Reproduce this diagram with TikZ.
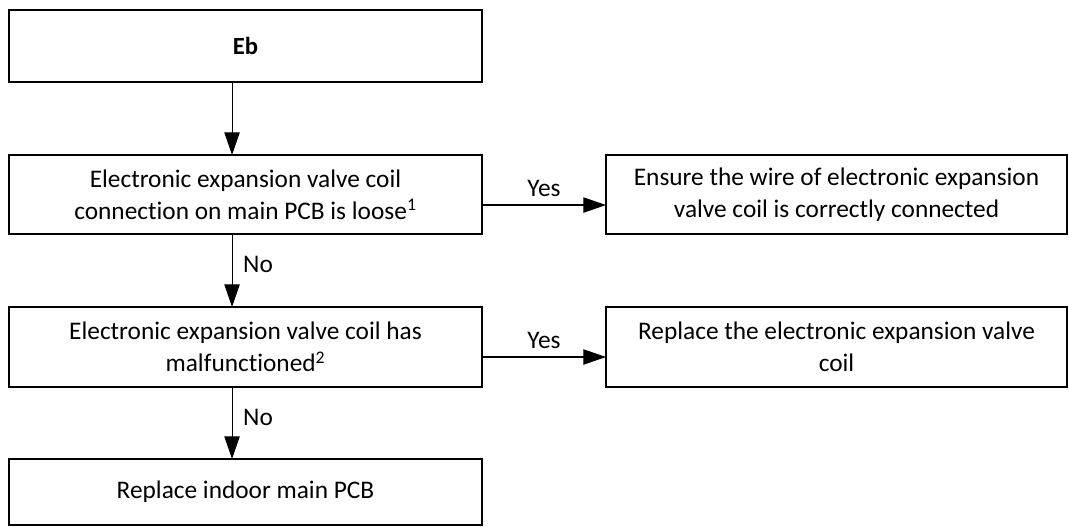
\documentclass[tikz,border=0pt]{standalone}
\usepackage{fontspec}
\setmainfont[Ligatures={NoCommon}]{Carlito}
\usetikzlibrary{arrows.meta}
\begin{document}
\begin{tikzpicture}[x=0.75pt,y=-0.75pt,
  box/.style={draw=black,line width=1.4pt,rectangle,inner sep=0pt,outer sep=0pt,align=center,
    font=\fontsize{19}{24}\selectfont},
  lbox/.style={box,minimum width=354.75pt},
  rbox/.style={box,minimum width=345.75pt},
  arr/.style={draw=black,line width=0.8pt,-{Triangle[length=17pt,width=11.5pt]}},
  lbl/.style={font=\fontsize{19}{24}\selectfont,inner sep=0pt}]
\useasboundingbox[fill=white] (0,0) rectangle (1069,527);
\node[lbox,minimum height=54pt,font=\fontsize{18.5}{22}\selectfont\bfseries] (eb) at (245.5,46) {Eb};
\node[lbox,minimum height=59.25pt] (b2) at (245.5,194.5) {Electronic expansion valve coil\\connection on main PCB is loose\textsuperscript{1}};
\node[lbox,minimum height=60pt] (b3) at (245.5,347) {Electronic expansion valve coil has\\malfunctioned\textsuperscript{2}};
\node[lbox,minimum height=49.5pt] (b4) at (245.5,492) {Replace indoor main PCB};
\node[rbox,minimum height=59.25pt] (r1) at (836.5,194.5) {Ensure the wire of electronic expansion\\valve coil is correctly connected};
\node[rbox,minimum height=60pt] (r2) at (836.5,347) {Replace the electronic expansion valve\\coil};
\draw[arr] ([xshift=-10.1pt]eb.south) -- ([xshift=-10.1pt]b2.north);
\draw[arr] ([xshift=-10.1pt]b2.south) -- ([xshift=-10.1pt]b3.north) node[lbl,pos=0.42,right=8pt] (no1) {No};
\draw[arr] ([xshift=-10.1pt]b3.south) -- ([xshift=-10.1pt]b4.north) node[lbl,pos=0.42,right=8pt] (no2) {No};
\draw[arr] ([yshift=-7.9pt]b2.east) -- ([yshift=-7.9pt]r1.west) node[lbl,pos=0.5,above=6pt] (y1) {Yes};
\draw[arr] ([yshift=-7.5pt]b3.east) -- ([yshift=-7.5pt]r2.west) node[lbl,pos=0.5,above=6pt] (y2) {Yes};
\end{tikzpicture}
\end{document}
